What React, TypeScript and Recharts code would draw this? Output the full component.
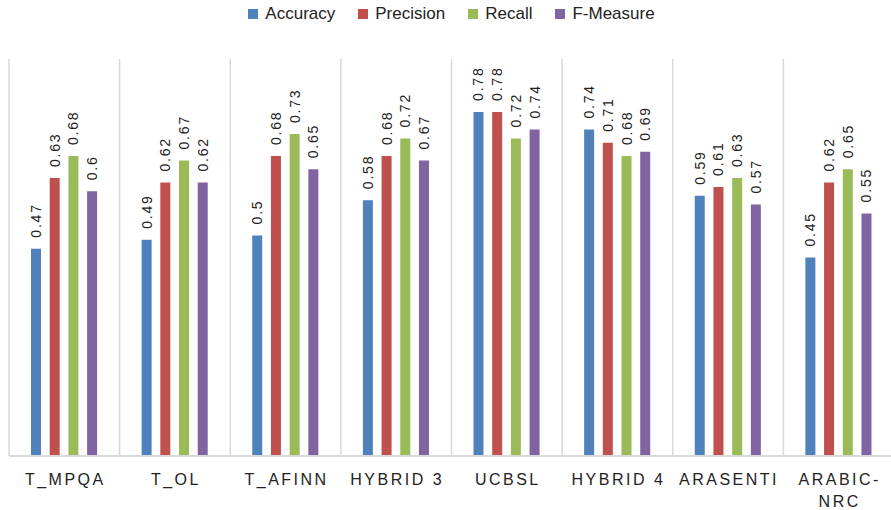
import { BarChart, Bar, XAxis, YAxis, CartesianGrid, Legend, LabelList } from 'recharts';

const categories = ['T_MPQA', 'T_OL', 'T_AFINN', 'HYBRID 3', 'UCBSL', 'HYBRID 4', 'ARASENTI', 'ARABIC-NRC'];
const accuracy = [0.47, 0.49, 0.5, 0.58, 0.78, 0.74, 0.59, 0.45];
const precision = [0.63, 0.62, 0.68, 0.68, 0.78, 0.71, 0.61, 0.62];
const recall = [0.68, 0.67, 0.73, 0.72, 0.72, 0.68, 0.63, 0.65];
const fMeasure = [0.6, 0.62, 0.65, 0.67, 0.74, 0.69, 0.57, 0.55];

const series = [
  { key: 'Accuracy', values: accuracy, color: '#4F81BD' },
  { key: 'Precision', values: precision, color: '#C0504D' },
  { key: 'Recall', values: recall, color: '#9BBB59' },
  { key: 'F-Measure', values: fMeasure, color: '#8064A2' },
];

const data = categories.map((name, i) => {
  const row: Record<string, string | number> = { name };
  series.forEach((s) => {
    row[s.key] = s.values[i];
  });
  return row;
});

const FONT = '"Liberation Sans", Arial, sans-serif';
const GRID = '#d9d9d9';

function ValueLabel(props: any) {
  const { x, y, width, value } = props;
  const cx = x + width / 2;
  const cy = y - 11;
  return (
    <text
      x={cx}
      y={cy}
      transform={`rotate(-90, ${cx}, ${cy})`}
      textAnchor="start"
      dominantBaseline="central"
      fontFamily={FONT}
      fontSize={14}
      letterSpacing={1.8}
      fill="#222"
    >
      {value}
    </text>
  );
}

function CategoryTick({ x, y, payload }: any) {
  const label: string = payload.value;
  const cut = label.indexOf('-');
  const lines = cut >= 0 ? [label.slice(0, cut + 1), label.slice(cut + 1)] : [label];
  return (
    <text x={x} y={y} textAnchor="middle" fontFamily={FONT} fontSize={16} letterSpacing={2.5} fill="#222">
      {lines.map((l, i) => (
        <tspan key={i} x={x + 1} dy={i === 0 ? 21 : 22}>
          {l}
        </tspan>
      ))}
    </text>
  );
}

function LegendContent() {
  return (
    <div
      style={{
        height: 24,
        display: 'flex',
        justifyContent: 'center',
        alignItems: 'center',
        fontFamily: FONT,
        fontSize: 17,
        color: '#222',
      }}
    >
      {series.map((s, i) => (
        <div key={s.key} style={{ display: 'flex', alignItems: 'center', marginLeft: i === 0 ? 0 : 23 }}>
          <span style={{ width: 10, height: 10, background: s.color, marginRight: 7, display: 'inline-block' }} />
          <span>{s.key}</span>
        </div>
      ))}
    </div>
  );
}

export default function App() {
  return (
    <div style={{ position: 'absolute', left: 0, top: 0, width: 891, height: 510, overflow: 'hidden', background: '#fff' }}>
      <BarChart
        width={896}
        height={510}
        data={data}
        margin={{ top: 35, right: 2, left: 9, bottom: 0 }}
        barSize={10}
        barGap={8.7}
      >
        <CartesianGrid
          horizontal={false}
          stroke={GRID}
          strokeWidth={1.5}
          verticalCoordinatesGenerator={({ offset }: any) =>
            Array.from({ length: categories.length + 1 }, (_, i) => offset.left + (i * offset.width) / categories.length)
          }
        />
        <XAxis
          dataKey="name"
          height={54}
          interval={0}
          tickLine={false}
          axisLine={{ stroke: GRID, strokeWidth: 2 }}
          tick={<CategoryTick />}
        />
        <YAxis hide domain={[0, 0.9]} />
        <Legend verticalAlign="top" content={<LegendContent />} wrapperStyle={{ top: 2 }} />
        {series.map((s) => (
          <Bar key={s.key} dataKey={s.key} fill={s.color} isAnimationActive={false}>
            <LabelList dataKey={s.key} content={<ValueLabel />} />
          </Bar>
        ))}
      </BarChart>
    </div>
  );
}
